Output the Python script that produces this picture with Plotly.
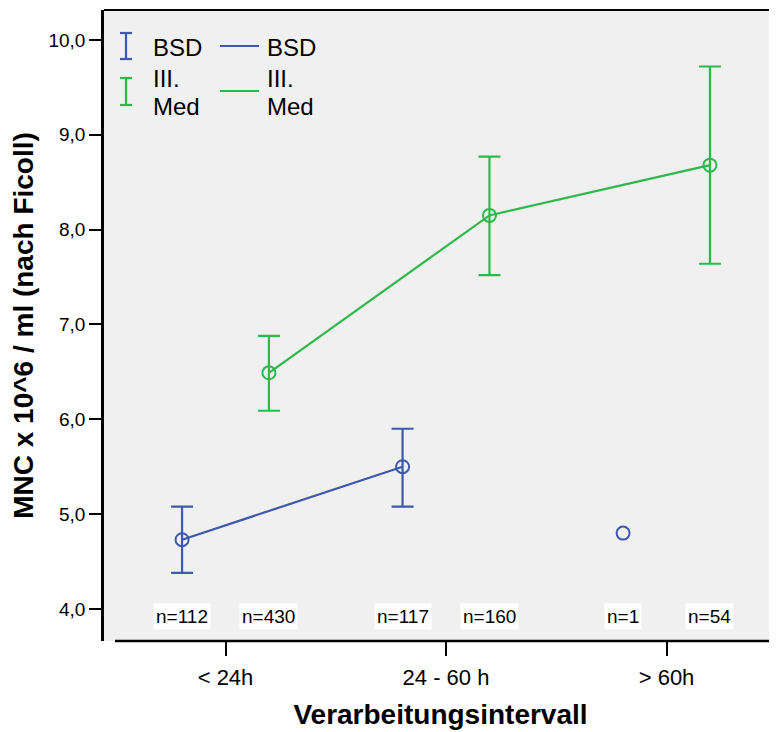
import plotly.graph_objects as go

categories = ["< 24h", "24 - 60 h", "> 60h"]
bsd_mean = [4.73, 5.50, 4.80]
bsd_upper = [5.08, 5.90, None]
bsd_lower = [4.38, 5.08, None]
bsd_n = [112, 117, 1]
med_mean = [6.49, 8.15, 8.68]
med_upper = [6.88, 8.77, 9.72]
med_lower = [6.09, 7.52, 7.64]
med_n = [430, 160, 54]

BLUE = "#3e58ac"
GREEN = "#2eb84b"
FONT = "Liberation Sans, Arial, sans-serif"
OFF = 0.197

# page coordinates (browser body has an 8px margin)
PAGE_W, PAGE_H, BODY = 777, 732, 8
L, R, T, B = 104, 777, 10, 641
W, H = PAGE_W - BODY, PAGE_H - BODY


def px(x):
    return (x - L) / (R - L)


def py(y):
    return (B - y) / (B - T)


xb = [i - OFF for i in range(len(categories))]
xm = [i + OFF for i in range(len(categories))]

fig = go.Figure()

for xs, mean, up, lo, n, col in [
    (xb, bsd_mean, bsd_upper, bsd_lower, bsd_n, BLUE),
    (xm, med_mean, med_upper, med_lower, med_n, GREEN),
]:
    line_y = [m if k > 1 else None for m, k in zip(mean, n)]
    fig.add_trace(go.Scatter(x=xs, y=line_y, mode="lines",
                             line=dict(color=col, width=2.2),
                             connectgaps=False, showlegend=False, hoverinfo="skip"))
    idx = [i for i, k in enumerate(n) if k > 1 and up[i] is not None]
    fig.add_trace(go.Scatter(
        x=[xs[i] for i in idx], y=[mean[i] for i in idx], mode="markers",
        marker=dict(symbol="circle-open", size=13, color=col, line=dict(width=2, color=col)),
        error_y=dict(type="data", symmetric=False,
                     array=[up[i] - mean[i] for i in idx],
                     arrayminus=[mean[i] - lo[i] for i in idx],
                     color=col, thickness=2.2, width=11),
        showlegend=False))
    rest = [i for i in range(len(n)) if i not in idx]
    if rest:
        fig.add_trace(go.Scatter(
            x=[xs[i] for i in rest], y=[mean[i] for i in rest], mode="markers",
            marker=dict(symbol="circle-open", size=13, color=col, line=dict(width=2, color=col)),
            showlegend=False))

annotations = []
for xs, n in [(xb, bsd_n), (xm, med_n)]:
    for x, k in zip(xs, n):
        annotations.append(dict(x=x, y=3.916, xref="x", yref="y", text=f"n={k}",
                                showarrow=False, bgcolor="white", borderpad=2,
                                font=dict(family=FONT, size=19, color="black")))

shapes = [
    dict(type="line", xref="paper", yref="paper", x0=px(115), x1=1.0, y0=0, y1=0,
         line=dict(color="black", width=2.5)),
    dict(type="line", xref="paper", yref="paper", x0=0, x1=1.0, y0=1, y1=1,
         line=dict(color="black", width=2)),
]

# manual legend
for col, y0, y1, ly, texts in [
    (BLUE, 33, 59, 46, [("BSD", 47)]),
    (GREEN, 78, 105, 91, [("III.", 78), ("Med", 106)]),
]:
    shapes += [
        dict(type="line", xref="paper", yref="paper", x0=px(126), x1=px(126), y0=py(y0), y1=py(y1),
             line=dict(color=col, width=2.2)),
        dict(type="line", xref="paper", yref="paper", x0=px(120), x1=px(132), y0=py(y0), y1=py(y0),
             line=dict(color=col, width=2.2)),
        dict(type="line", xref="paper", yref="paper", x0=px(120), x1=px(132), y0=py(y1), y1=py(y1),
             line=dict(color=col, width=2.2)),
        dict(type="line", xref="paper", yref="paper", x0=px(220), x1=px(259), y0=py(ly), y1=py(ly),
             line=dict(color=col, width=2)),
    ]
    for txt, ty in texts:
        for tx in (151, 265):
            annotations.append(dict(x=px(tx), y=py(ty), xref="paper", yref="paper", text=txt,
                                    showarrow=False, xanchor="left", yanchor="middle",
                                    font=dict(family=FONT, size=24, color="black")))

fig.update_layout(
    width=W, height=H,
    margin=dict(l=L - BODY, r=PAGE_W - R, t=T - BODY, b=H - (B - BODY), pad=0),
    paper_bgcolor="white", plot_bgcolor="#f0f0f0",
    separators=",.",
    font=dict(family=FONT, color="black"),
    shapes=shapes, annotations=annotations,
    xaxis=dict(range=[-0.551, 2.501], tickvals=list(range(len(categories))), ticktext=categories,
               showgrid=False, zeroline=False, showline=False,
               ticks="outside", ticklen=14, tickwidth=2, tickcolor="black",
               ticklabelstandoff=3,
               tickfont=dict(family=FONT, size=22, color="black"),
               title=dict(text="<b>Verarbeitungsintervall</b>", standoff=14,
                          font=dict(family=FONT, size=28, color="black"))),
    yaxis=dict(range=[3.662, 10.316], tickvals=[4, 5, 6, 7, 8, 9, 10], tickformat=".1f",
               showgrid=False, zeroline=False, showline=True, linecolor="black", linewidth=2.5,
               ticks="outside", ticklen=12, tickwidth=2, tickcolor="black",
               tickfont=dict(family=FONT, size=19, color="black"),
               title=dict(text="<b>MNC x 10^6 / ml (nach Ficoll)</b>", standoff=14,
                          font=dict(family=FONT, size=28, color="black"))),
)

fig.write_html("out.html")
